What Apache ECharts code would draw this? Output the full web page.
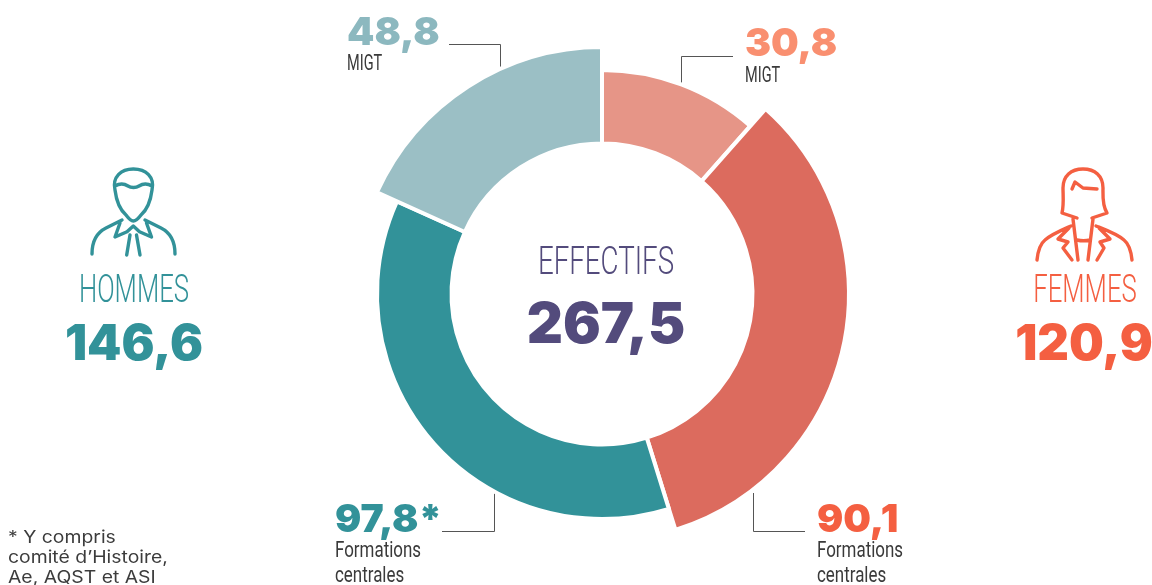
<!DOCTYPE html>
<html>
<head>
<meta charset="utf-8">
<title>Effectifs</title>
<script src="https://cdn.jsdelivr.net/npm/echarts@6/dist/echarts.min.js"></script>
<style>
  html, body { margin: 0; padding: 0; background: #fff; }
  #chart { width: 1152px; height: 585px; }
</style>
</head>
<body>
<div id="chart"></div>
<script>
// effectifs par groupe, sens horaire depuis midi
const categories = ['MIGT femmes', 'Formations centrales femmes', 'Formations centrales hommes', 'MIGT hommes'];
const values = [30.8, 90.1, 97.8, 48.8];
const totalLabel = ['EFFECTIFS'];
const total = [267.5];
const genders = ['HOMMES', 'FEMMES'];
const genderTotals = [146.6, 120.9];
const footnote = ['* Y compris', 'comité d\u2019Histoire,', 'Ae, AQST et ASI'];

const sliceColors = ['#e69587', '#dc6b5e', '#329299', '#9bbfc5'];
const outerRadius = [224, 247, 225, 247];

const TEAL = '#329299', RED = '#f45f41', PURPLE = '#534b7c', DARK = '#3a3a3a';
const CX = 602, CY = 294;
const fr = function (v) { return String(v).replace('.', ','); };

// une série par tranche car chaque tranche a son propre rayon
const series = categories.map(function (c, i) {
    return {
        type: 'pie',
        silent: true,
        center: [CX, CY],
        radius: [150.5, outerRadius[i]],
        startAngle: 90,
        clockwise: true,
        animation: false,
        label: { show: false },
        labelLine: { show: false },
        data: categories.map(function (name, j) {
            return {
                name: name,
                value: values[j],
                itemStyle: j === i
                    ? { color: sliceColors[i], borderColor: '#fff', borderWidth: 4 }
                    : { color: 'transparent', borderWidth: 0 }
            };
        })
    };
});

function txt(str, x, y, size, weight, family, color, align, sx) {
    return {
        type: 'text',
        x: x, y: y,
        scaleX: sx || 1,
        silent: true,
        style: {
            text: str,
            fill: color,
            font: weight + ' ' + size + 'px "' + family + '"',
            textAlign: align || 'left',
            textVerticalAlign: 'middle'
        }
    };
}
const num = function (str, x, y, size, color, align) { return txt(str, x, y, size, 900, 'Inter', color, align, 1); };
const narrow = function (str, x, y) { return txt(str, x, y, 22, 400, 'Roboto', DARK, 'left', 0.77); };
const caps = function (str, x, y) { return txt(str, x, y, 22, 400, 'Roboto', DARK, 'left', 0.66); };
const thin = function (str, x, y, color) { return txt(str, x, y, 39, 300, 'Roboto', color, 'center', 0.66); };

function line(points) {
    return {
        type: 'polyline', silent: true,
        shape: { points: points },
        style: { stroke: '#555', lineWidth: 1, fill: 'none' }
    };
}
function icon(type, color) {
    return {
        type: type, silent: true,
        style: { stroke: color, lineWidth: 3.4, fill: 'none', lineCap: 'round', lineJoin: 'round' }
    };
}
const manPath = 'M126 215C118 208 116 198 115 190C112 177 121 169 133.3 169C146 169 155 177 152 190C151 198 149 208 141 215C138 219 136 221 133.3 221C131 221 129 219 126 215Z'
    + 'M115 186C120 183 125 184 128 186C131 188 136 188 139 186C142 184 147 183 152 186'
    + 'M92 254C92 240 98 232 106 228L122 220M175 254C175 240 169 232 161 228L145 220'
    + 'M120 223L115 237L127 231.7L133.3 226L139.5 231.7L151.5 237L146.5 223'
    + 'M130 235L126.7 255M136.5 235L140 255';
const womanPath = 'M1077 218L1062 213C1064 205 1063 195 1063 188C1063 176 1071 169 1083 169C1095 169 1103 176 1103 188C1103 195 1102 205 1107 213L1092 218'
    + 'M1072 189L1075 182L1083 188L1097 189'
    + 'M1073 219L1078 260M1093 219L1088 260M1077 240C1081 241 1086 241 1090 240'
    + 'M1037 260C1038 250 1040 244 1045 240C1052 234 1062 230 1071 226M1132 260C1131 250 1129 244 1124 240C1117 234 1106 230 1096 226'
    + 'M1069 228L1058 239L1068 242L1063 248L1072 260M1099 228L1110 239L1100 242L1104 248L1097 260';
echarts.graphic.registerShape('manIcon', echarts.graphic.extendPath(manPath, {}));
echarts.graphic.registerShape('womanIcon', echarts.graphic.extendPath(womanPath, {}));

const graphics = [
    txt(totalLabel[0], 606, 264, 39, 300, 'Roboto', PURPLE, 'center', 0.71),
    num(fr(total[0]), 606, 326.5, 56, PURPLE, 'center'),

    icon('manIcon', TEAL),
    thin(genders[0], 134, 292, TEAL),
    num(fr(genderTotals[0]), 134, 345.5, 49, TEAL, 'center'),

    icon('womanIcon', RED),
    thin(genders[1], 1085, 292, RED),
    num(fr(genderTotals[1]), 1084, 345.5, 49, RED, 'center'),

    num(fr(values[3]), 347, 33, 39, '#8cb8bf'),
    caps('MIGT', 347, 64),
    line([[449, 44.5], [500.5, 44.5], [500.5, 67]]),

    num(fr(values[0]), 745, 44, 39, '#f98f70'),
    caps('MIGT', 745, 76),
    line([[733, 56.5], [681.5, 56.5], [681.5, 83]]),

    num(fr(values[2]) + '*', 335, 520, 39, TEAL),
    narrow('Formations', 335, 551),
    narrow('centrales', 335, 576),
    line([[442, 531.5], [494.5, 531.5], [494.5, 493]]),

    num(fr(values[1]), 817, 520, 39, RED),
    narrow('Formations', 817, 551),
    narrow('centrales', 817, 576),
    line([[805, 531.5], [753.5, 531.5], [753.5, 493]])
];
footnote.forEach(function (t, i) {
    graphics.push(txt(t, 8, 538 + i * 20, 17, 400, 'Inter', '#3c3c3c', 'left', 1.14));
});

const chart = echarts.init(document.getElementById('chart'));
chart.setOption({
    animation: false,
    backgroundColor: '#fff',
    series: series,
    graphic: { elements: graphics }
});
</script>
</body>
</html>
